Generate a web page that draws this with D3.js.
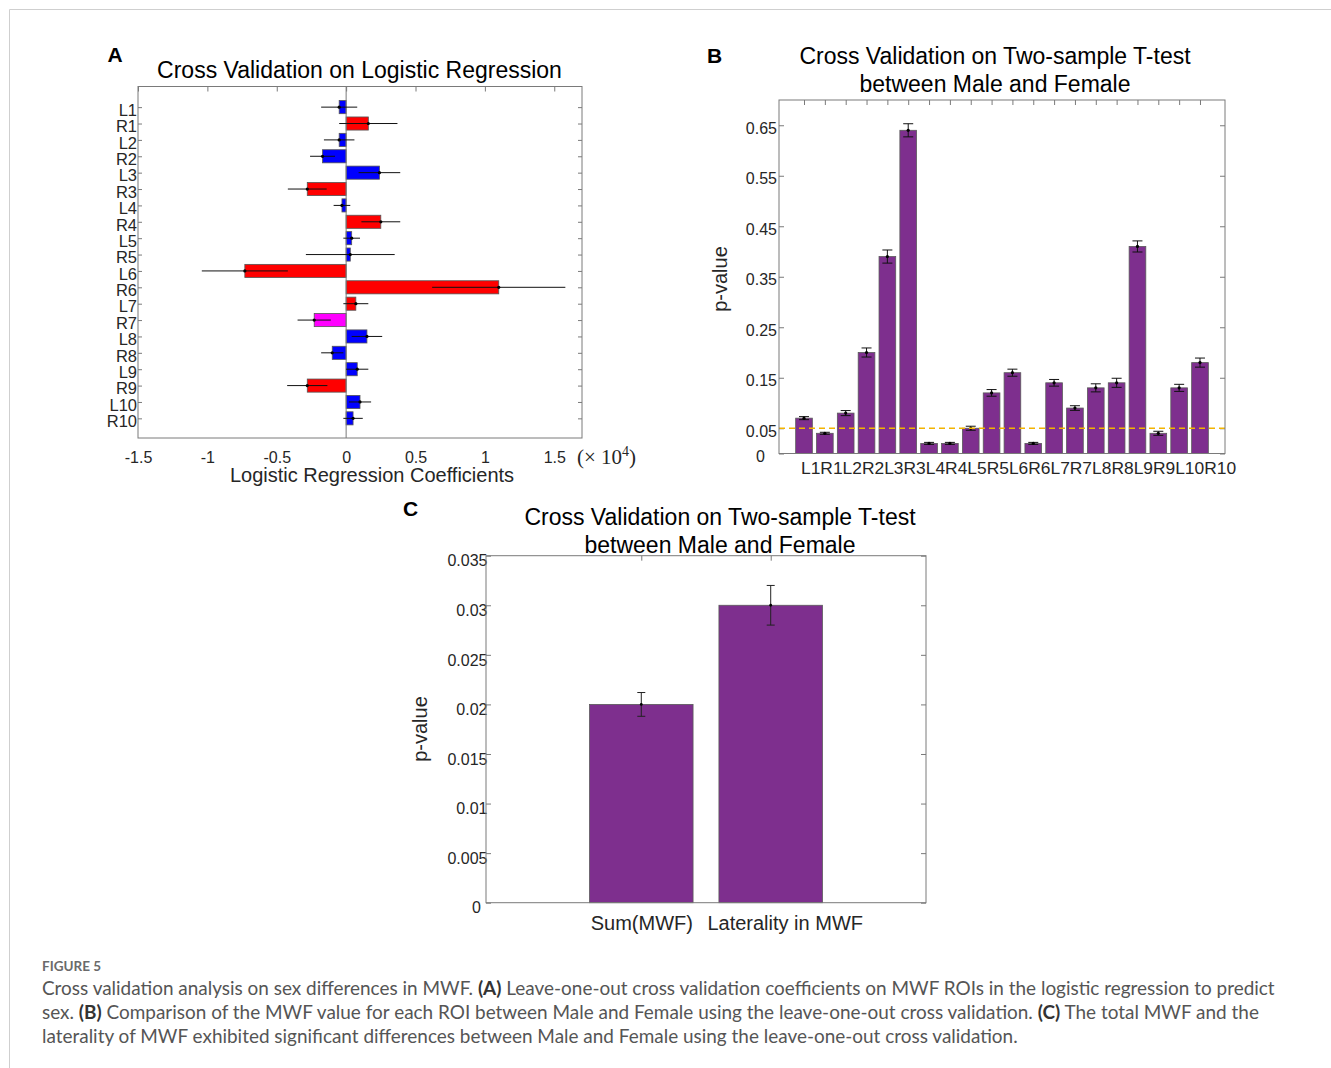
<!DOCTYPE html>
<html>
<head>
<meta charset="utf-8">
<script src="https://cdn.jsdelivr.net/npm/d3@7"></script>
<style>
  body { margin: 0; background: #fff; }
  text { font-family: 'Liberation Sans', Arial, sans-serif; fill: #262626; }
  text.title, text.letter { fill: #000; }
  text.cap { font-family: Lato, 'Open Sans', sans-serif; fill: #555; }
</style>
</head>
<body>
<svg id="chart" width="1331" height="1068"></svg>
<script>
// ROI names, shared by panels A and B
const rois = ['L1', 'R1', 'L2', 'R2', 'L3', 'R3', 'L4', 'R4', 'L5', 'R5',
    'L6', 'R6', 'L7', 'R7', 'L8', 'R8', 'L9', 'R9', 'L10', 'R10']

// panel A: logistic regression coefficients (x 10^4) and their spread
const coefMean = [-0.05, 0.16, -0.05, -0.17, 0.24, -0.28, -0.03, 0.25, 0.04, 0.03,
    -0.73, 1.10, 0.07, -0.23, 0.15, -0.10, 0.08, -0.28, 0.10, 0.05]
const coefErr = [0.13, 0.21, 0.11, 0.09, 0.15, 0.14, 0.06, 0.14, 0.06, 0.32,
    0.31, 0.48, 0.09, 0.12, 0.11, 0.08, 0.08, 0.145, 0.08, 0.07]
const coefGroup = ['b', 'r', 'b', 'b', 'b', 'r', 'b', 'r', 'b', 'b',
    'r', 'r', 'r', 'm', 'b', 'b', 'b', 'r', 'b', 'b']
const coefTicks = [-1.5, -1, -0.5, 0, 0.5, 1, 1.5]

// panel B: p-values per ROI
const pMean = [0.07, 0.04, 0.08, 0.20, 0.39, 0.64, 0.02, 0.02, 0.05, 0.12,
    0.16, 0.02, 0.14, 0.09, 0.13, 0.14, 0.41, 0.04, 0.13, 0.18]
const pErr = [0.003, 0.002, 0.005, 0.009, 0.013, 0.013, 0.002, 0.002, 0.004, 0.0066,
    0.007, 0.002, 0.0066, 0.0046, 0.008, 0.009, 0.011, 0.004, 0.007, 0.009]
const pTicks = [0, 0.05, 0.15, 0.25, 0.35, 0.45, 0.55, 0.65]
const pThreshold = 0.05

// panel C: total MWF and laterality
const measures = ['Sum(MWF)', 'Laterality in MWF']
const cMean = [0.02, 0.03]
const cErr = [0.0012, 0.002]
const cTicks = [0, 0.005, 0.01, 0.015, 0.02, 0.025, 0.03, 0.035]

let svg = d3.select('#chart')
let purple = '#7e2f8e'
let axisGrey = '#7a7a7a'
let plain = (d) => String(+d.toFixed(3)) // plain hyphen minus like the print

// outer frame of the figure page
svg.append('path')
    .attr('d', 'M9.5,1068 V9.5 H1331')
    .attr('fill', 'none')
    .attr('stroke', '#cfcfcf')

function box(g, x0, x1, y0, y1) {
    g.append('rect')
        .attr('x', x0).attr('y', y0)
        .attr('width', x1 - x0).attr('height', y1 - y0)
        .attr('fill', 'none')
        .attr('stroke', axisGrey)
}

function tidy(sel) {
    sel.select('.domain').remove()
    sel.selectAll('.tick line').attr('stroke', axisGrey)
    sel.selectAll('.tick text').attr('fill', '#262626')
}

/* ---------------- panel A ---------------- */
let aLeft = 138, aRight = 582, aTop = 86.5, aBottom = 438
let ax = d3.scaleLinear().domain([-1.5, 1.7]).range([aLeft, aRight])
let ay = d3.scaleLinear().domain([-0.26, rois.length + 1.2]).range([aTop, aBottom])
let rowH = (ay(1) - ay(0)) * 0.8
let groupColor = d3.scaleOrdinal().domain(['b', 'r', 'm']).range(['#0000ff', '#ff0000', '#ff00ff'])
let gA = svg.append('g')

gA.append('g')
    .attr('transform', `translate(0,${aTop})`)
    .call(d3.axisTop(ax).tickValues(coefTicks).tickSizeInner(-5).tickSizeOuter(0).tickFormat(''))
    .call(tidy)
gA.append('g')
    .attr('transform', `translate(0,${aBottom})`)
    .call(d3.axisBottom(ax).tickValues(coefTicks).tickSize(0).tickPadding(14).tickFormat(plain))
    .call(tidy)
    .selectAll('text').attr('font-size', 16)
gA.append('g')
    .attr('transform', `translate(${aLeft},0)`)
    .call(d3.axisLeft(ay).tickValues(d3.range(1, rois.length + 1)).tickSizeInner(-4).tickSizeOuter(0)
        .tickPadding(1).tickFormat((i) => rois[i - 1]))
    .call(tidy)
    .selectAll('text').attr('font-size', 16.5).attr('dy', '0.5em')
gA.append('g')
    .attr('transform', `translate(${aRight},0)`)
    .call(d3.axisRight(ay).tickValues(d3.range(1, rois.length + 1)).tickSizeInner(-4).tickSizeOuter(0).tickFormat(''))
    .call(tidy)

gA.append('g')
    .selectAll('rect')
    .data(coefMean)
    .enter()
    .append('rect')
    .attr('x', (d) => ax(Math.min(0, d)))
    .attr('width', (d) => Math.abs(ax(d) - ax(0)))
    .attr('y', (d, i) => ay(i + 1) - rowH / 2)
    .attr('height', rowH)
    .attr('fill', (d, i) => groupColor(coefGroup[i]))
    .attr('stroke', '#555')
    .attr('stroke-width', 0.8)

// zero baseline
gA.append('line')
    .attr('x1', ax(0)).attr('x2', ax(0))
    .attr('y1', aTop).attr('y2', aBottom)
    .attr('stroke', axisGrey)

// horizontal error bars with the mean marked
let errA = gA.append('g')
    .selectAll('g')
    .data(coefMean)
    .enter()
    .append('g')
errA.append('line')
    .attr('x1', (d, i) => ax(d - coefErr[i]))
    .attr('x2', (d, i) => ax(d + coefErr[i]))
    .attr('y1', (d, i) => ay(i + 1))
    .attr('y2', (d, i) => ay(i + 1))
    .attr('stroke', '#111')
    .attr('stroke-width', 1)
errA.append('circle')
    .attr('cx', (d) => ax(d))
    .attr('cy', (d, i) => ay(i + 1))
    .attr('r', 1.6)
    .attr('fill', '#000')

box(gA, aLeft, aRight, aTop, aBottom)

gA.append('text')
    .attr('class', 'title')
    .attr('x', 359.5).attr('y', 78.3)
    .attr('text-anchor', 'middle')
    .attr('font-size', 23)
    .text('Cross Validation on Logistic Regression')
gA.append('text')
    .attr('x', 372).attr('y', 482)
    .attr('text-anchor', 'middle')
    .attr('font-size', 20)
    .text('Logistic Regression Coefficients')
let expo = gA.append('text')
    .attr('x', 577).attr('y', 464)
    .attr('font-size', 21)
    .style('font-family', "'Liberation Serif', 'DejaVu Serif', serif")
expo.append('tspan').text('(× 10')
expo.append('tspan').attr('dy', -8).attr('font-size', 14).text('4')
expo.append('tspan').attr('dy', 8).text(')')
gA.append('text')
    .attr('class', 'letter')
    .attr('x', 107.5).attr('y', 61.7)
    .attr('font-size', 21).attr('font-weight', 'bold')
    .text('A')

/* ---------------- panel B ---------------- */
let bLeft = 779, bRight = 1225, bTop = 100, bBottom = 453.5
let bx = d3.scaleLinear().domain([-0.2, rois.length + 1.2]).range([bLeft, bRight])
let by = d3.scaleLinear().domain([0, 0.7]).range([bBottom, bTop])
let bw = (bx(1) - bx(0)) * 0.8
let gB = svg.append('g')

gB.append('g')
    .attr('transform', `translate(0,${bTop})`)
    .call(d3.axisTop(bx).tickValues(d3.range(1, rois.length + 1)).tickSizeInner(-5).tickSizeOuter(0).tickFormat(''))
    .call(tidy)

// ROI names run together under the bars, as in the print
let bNames = gB.append('text')
    .attr('x', bx(1) - 3)
    .attr('y', bBottom + 20)
    .attr('font-size', 17.4)
bNames.selectAll('tspan')
    .data(rois)
    .enter()
    .append('tspan')
    .text((d) => d)

let bLeftAxis = gB.append('g')
    .attr('transform', `translate(${bLeft},0)`)
    .call(d3.axisLeft(by).tickValues(pTicks).tickSizeInner(-5).tickSizeOuter(0).tickPadding(2)
        .tickFormat((d) => d === 0 ? '0' : d3.format('.2f')(d)))
    .call(tidy)
bLeftAxis.selectAll('text').attr('font-size', 16).attr('dy', '0.5em')
bLeftAxis.selectAll('text').filter((d) => d === 0).attr('x', -14)
gB.append('g')
    .attr('transform', `translate(${bRight},0)`)
    .call(d3.axisRight(by).tickValues(pTicks).tickSizeInner(-5).tickSizeOuter(0).tickFormat(''))
    .call(tidy)

gB.append('g')
    .selectAll('rect')
    .data(pMean)
    .enter()
    .append('rect')
    .attr('x', (d, i) => bx(i + 1) - bw / 2)
    .attr('width', bw)
    .attr('y', (d) => by(d))
    .attr('height', (d) => by(0) - by(d))
    .attr('fill', purple)
    .attr('stroke', '#5a5a5a')
    .attr('stroke-width', 0.8)

let errB = gB.append('g')
    .selectAll('g')
    .data(pMean)
    .enter()
    .append('g')
    .attr('stroke', '#111')
    .attr('stroke-width', 1)
errB.append('line')
    .attr('x1', (d, i) => bx(i + 1)).attr('x2', (d, i) => bx(i + 1))
    .attr('y1', (d, i) => by(d - pErr[i])).attr('y2', (d, i) => by(d + pErr[i]))
errB.append('line')
    .attr('x1', (d, i) => bx(i + 1) - 5).attr('x2', (d, i) => bx(i + 1) + 5)
    .attr('y1', (d, i) => by(d + pErr[i])).attr('y2', (d, i) => by(d + pErr[i]))
errB.append('line')
    .attr('x1', (d, i) => bx(i + 1) - 5).attr('x2', (d, i) => bx(i + 1) + 5)
    .attr('y1', (d, i) => by(d - pErr[i])).attr('y2', (d, i) => by(d - pErr[i]))
errB.append('circle')
    .attr('cx', (d, i) => bx(i + 1)).attr('cy', (d) => by(d))
    .attr('r', 1.6).attr('fill', '#000').attr('stroke', 'none')

// significance threshold
gB.append('line')
    .attr('x1', bLeft).attr('x2', bRight)
    .attr('y1', by(pThreshold)).attr('y2', by(pThreshold))
    .attr('stroke', '#f2b400')
    .attr('stroke-width', 1.6)
    .attr('stroke-dasharray', '6 4')

box(gB, bLeft, bRight, bTop, bBottom)

gB.append('text').attr('class', 'title')
    .attr('x', 995).attr('y', 64)
    .attr('text-anchor', 'middle').attr('font-size', 23)
    .text('Cross Validation on Two-sample T-test')
gB.append('text').attr('class', 'title')
    .attr('x', 995).attr('y', 92)
    .attr('text-anchor', 'middle').attr('font-size', 23)
    .text('between Male and Female')
gB.append('text')
    .attr('transform', 'translate(727,279) rotate(-90)')
    .attr('text-anchor', 'middle').attr('font-size', 20)
    .text('p-value')
gB.append('text').attr('class', 'letter')
    .attr('x', 707).attr('y', 62.5)
    .attr('font-size', 21).attr('font-weight', 'bold')
    .text('B')

/* ---------------- panel C ---------------- */
let cLeft = 486, cRight = 926, cTop = 555.7, cBottom = 902.7
let cx = d3.scaleLinear().domain([-0.2, measures.length + 1.2]).range([cLeft, cRight])
let cy = d3.scaleLinear().domain([0, 0.035]).range([cBottom, cTop])
let cw = (cx(1) - cx(0)) * 0.8
let gC = svg.append('g')

gC.append('g')
    .attr('transform', `translate(0,${cTop})`)
    .call(d3.axisTop(cx).tickValues(d3.range(1, measures.length + 1)).tickSizeInner(-5).tickSizeOuter(0).tickFormat(''))
    .call(tidy)
let cBottomAxis = gC.append('g')
    .attr('transform', `translate(0,${cBottom})`)
    .call(d3.axisBottom(cx).tickValues(d3.range(1, measures.length + 1)).tickSizeInner(-5).tickSizeOuter(0)
        .tickPadding(13).tickFormat((i) => measures[i - 1]))
    .call(tidy)
cBottomAxis.selectAll('text').attr('font-size', 20).attr('dx', (d) => d === 2 ? 14 : 0)
let cLeftAxis = gC.append('g')
    .attr('transform', `translate(${cLeft},0)`)
    .call(d3.axisLeft(cy).tickValues(cTicks).tickSizeInner(-5).tickSizeOuter(0).tickPadding(-1.5)
        .tickFormat(plain))
    .call(tidy)
cLeftAxis.selectAll('text').attr('font-size', 16).attr('dy', '0.64em')
cLeftAxis.selectAll('text').filter((d) => d === 0).attr('x', -5)
gC.append('g')
    .attr('transform', `translate(${cRight},0)`)
    .call(d3.axisRight(cy).tickValues(cTicks).tickSizeInner(-5).tickSizeOuter(0).tickFormat(''))
    .call(tidy)

gC.append('g')
    .selectAll('rect')
    .data(cMean)
    .enter()
    .append('rect')
    .attr('x', (d, i) => cx(i + 1) - cw / 2)
    .attr('width', cw)
    .attr('y', (d) => cy(d))
    .attr('height', (d) => cy(0) - cy(d))
    .attr('fill', purple)
    .attr('stroke', '#5a5a5a')
    .attr('stroke-width', 0.8)

let errC = gC.append('g')
    .selectAll('g')
    .data(cMean)
    .enter()
    .append('g')
    .attr('stroke', '#222')
    .attr('stroke-width', 1)
errC.append('line')
    .attr('x1', (d, i) => cx(i + 1)).attr('x2', (d, i) => cx(i + 1))
    .attr('y1', (d, i) => cy(d - cErr[i])).attr('y2', (d, i) => cy(d + cErr[i]))
errC.append('line')
    .attr('x1', (d, i) => cx(i + 1) - 4).attr('x2', (d, i) => cx(i + 1) + 4)
    .attr('y1', (d, i) => cy(d + cErr[i])).attr('y2', (d, i) => cy(d + cErr[i]))
errC.append('line')
    .attr('x1', (d, i) => cx(i + 1) - 4).attr('x2', (d, i) => cx(i + 1) + 4)
    .attr('y1', (d, i) => cy(d - cErr[i])).attr('y2', (d, i) => cy(d - cErr[i]))
errC.append('circle')
    .attr('cx', (d, i) => cx(i + 1)).attr('cy', (d) => cy(d))
    .attr('r', 1.4).attr('fill', '#000').attr('stroke', 'none')

box(gC, cLeft, cRight, cTop, cBottom)

gC.append('text').attr('class', 'title')
    .attr('x', 720).attr('y', 524.5)
    .attr('text-anchor', 'middle').attr('font-size', 23)
    .text('Cross Validation on Two-sample T-test')
gC.append('text').attr('class', 'title')
    .attr('x', 720).attr('y', 552.5)
    .attr('text-anchor', 'middle').attr('font-size', 23)
    .text('between Male and Female')
gC.append('text')
    .attr('transform', 'translate(427,729) rotate(-90)')
    .attr('text-anchor', 'middle').attr('font-size', 20)
    .text('p-value')
gC.append('text').attr('class', 'letter')
    .attr('x', 403).attr('y', 515.5)
    .attr('font-size', 21).attr('font-weight', 'bold')
    .text('C')

/* ---------------- caption ---------------- */
let cap = svg.append('g')
cap.append('text')
    .attr('class', 'cap')
    .attr('x', 42).attr('y', 971)
    .attr('font-size', 13.5).attr('font-weight', 'bold')
    .style('fill', '#6a6a6a')
    .text('FIGURE 5')

let capLines = [
    [['Cross validation analysis on sex differences in MWF. ', false], ['(A)', true],
        [' Leave-one-out cross validation coefficients on MWF ROIs in the logistic regression to predict', false]],
    [['sex. ', false], ['(B)', true],
        [' Comparison of the MWF value for each ROI between Male and Female using the leave-one-out cross validation. ', false],
        ['(C)', true], [' The total MWF and the', false]],
    [['laterality of MWF exhibited significant differences between Male and Female using the leave-one-out cross validation.', false]]
]
let capTexts = cap.selectAll('text.capline')
    .data(capLines)
    .enter()
    .append('text')
    .attr('class', 'cap capline')
    .attr('x', 42)
    .attr('y', (d, i) => 995 + i * 24)
    .attr('font-size', 17)
capTexts.selectAll('tspan')
    .data((d) => d)
    .enter()
    .append('tspan')
    .attr('font-weight', (d) => d[1] ? 'bold' : null)
    .style('fill', (d) => d[1] ? '#333' : null)
    .text((d) => d[0])

// fit the caption font so the first line spans the same width as the printed one
let firstLen = capTexts.node().getComputedTextLength()
capTexts.attr('font-size', 17 * 1234 / firstLen)
</script>
</body>
</html>
